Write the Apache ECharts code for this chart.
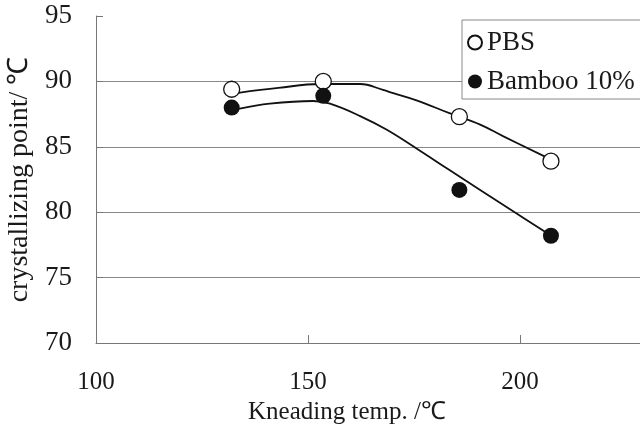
<!DOCTYPE html>
<html>
<head>
<meta charset="utf-8">
<script src="https://cdn.jsdelivr.net/npm/echarts@6/dist/echarts.min.js"></script>
<style>
  html, body { margin: 0; padding: 0; background: #fff; }
  #chart { width: 640px; height: 427px; }
</style>
</head>
<body>
<div id="chart"></div>
<script>
// measured points (x positions as they sit on the plotted axis)
var pointX = [132.0, 153.6, 185.7, 207.3];
var pbsY = [89.4, 90.0, 87.3, 83.9];
var bambooY = [88.0, 88.9, 81.7, 78.2];

// fitted curves
var pbsCurveX = [133.6, 143, 152.8, 162.3, 167.7, 170.1, 175.6, 183.5, 190.6, 196.1, 205.9];
var pbsCurveY = [89.13, 89.5, 89.8, 89.8, 89.35, 89.1, 88.55, 87.55, 86.7, 85.8, 84.25];
var bambooCurveX = [133.6, 141, 151.2, 155.2, 162.3, 168.6, 176.4, 183, 190.6, 199.2, 205.9];
var bambooCurveY = [87.9, 88.3, 88.5, 88.3, 87.35, 86.3, 84.7, 83.3, 81.7, 79.9, 78.5];

// x axis is cut by the right edge of the picture
var xTicks = [100, 228.3, 50];   // min, max, interval
var yTicks = [70, 95, 5];

function pairs(xs, ys) {
  return xs.map(function (x, i) { return [x, ys[i]]; });
}

var chart = echarts.init(document.getElementById('chart'));
var font = 'Liberation Serif, Times New Roman, serif';

var option = {
  animation: false,
  backgroundColor: '#fff',
  textStyle: { fontFamily: font, color: '#1a1a1a' },
  grid: { left: 96, top: 16, bottom: 84, right: 0, outerBoundsMode: 'none' },
  legend: {
    orient: 'vertical',
    left: 462,
    top: 20,
    padding: [9, 60, 4, 5],
    itemGap: 12,
    itemWidth: 14,
    itemHeight: 14,
    borderColor: '#888',
    borderWidth: 1,
    backgroundColor: '#fff',
    textStyle: { fontFamily: font, fontSize: 27, color: '#1a1a1a' },
    data: ['PBS', 'Bamboo 10%']
  },
  xAxis: {
    type: 'value',
    min: xTicks[0],
    max: xTicks[1],
    interval: xTicks[2],
    name: 'Kneading temp. /℃',
    nameLocation: 'middle',
    nameGap: 51,
    nameTextStyle: { fontFamily: font, fontSize: 25, color: '#1a1a1a', padding: [0, 42, 0, 0] },
    axisLine: { lineStyle: { color: '#777', width: 1 } },
    axisTick: { inside: true, length: 8, lineStyle: { color: '#777' } },
    axisLabel: { fontFamily: font, fontSize: 25, color: '#1a1a1a', margin: 27, showMaxLabel: false },
    splitLine: { show: false }
  },
  yAxis: {
    type: 'value',
    min: yTicks[0],
    max: yTicks[1],
    interval: yTicks[2],
    name: 'crystallizing point/ ℃',
    nameLocation: 'middle',
    nameGap: 49,
    nameTextStyle: { fontFamily: font, fontSize: 28, color: '#1a1a1a' },
    axisLine: { show: true, lineStyle: { color: '#777', width: 1 } },
    axisTick: { show: true, inside: true, length: 7, lineStyle: { color: '#777' } },
    axisLabel: { fontFamily: font, fontSize: 27, color: '#1a1a1a', margin: 24 },
    splitLine: { show: true, showMinLine: false, showMaxLine: false, lineStyle: { color: '#888', width: 1 } }
  },
  series: [
    {
      name: 'PBS curve',
      type: 'line',
      smooth: 0.4,
      showSymbol: false,
      silent: true,
      lineStyle: { color: '#111', width: 1.8 },
      data: pairs(pbsCurveX, pbsCurveY)
    },
    {
      name: 'Bamboo curve',
      type: 'line',
      smooth: 0.4,
      showSymbol: false,
      silent: true,
      lineStyle: { color: '#111', width: 1.8 },
      data: pairs(bambooCurveX, bambooCurveY)
    },
    {
      name: 'PBS',
      type: 'scatter',
      symbol: 'circle',
      symbolSize: 16,
      z: 3,
      itemStyle: { color: '#fff', borderColor: '#111', borderWidth: 1.3, opacity: 1 },
      data: pairs(pointX, pbsY)
    },
    {
      name: 'Bamboo 10%',
      type: 'scatter',
      symbol: 'circle',
      symbolSize: 16,
      z: 3,
      itemStyle: { color: '#111', opacity: 1 },
      data: pairs(pointX, bambooY)
    }
  ]
};

chart.setOption(option);
</script>
</body>
</html>
